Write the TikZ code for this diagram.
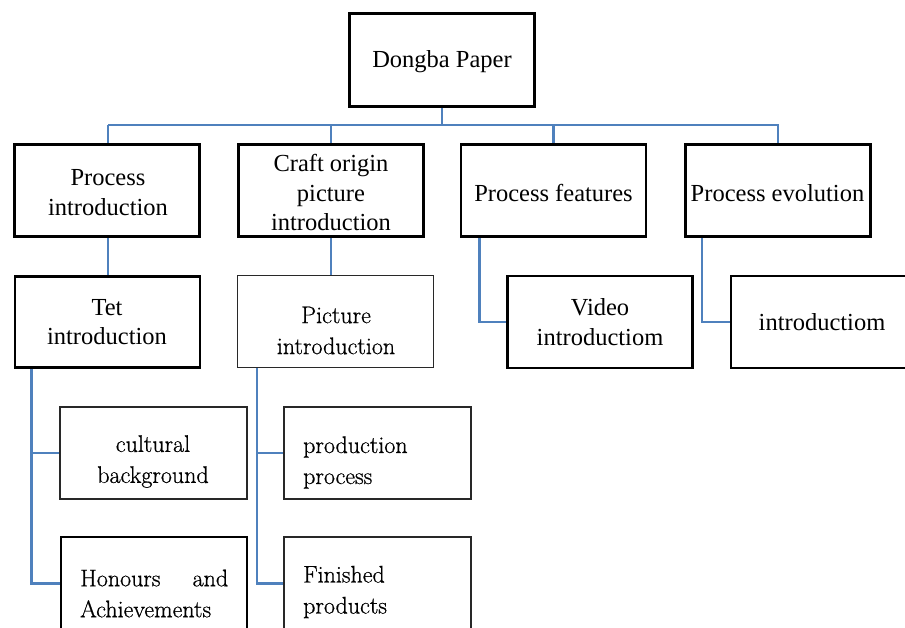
\documentclass[tikz,border=0pt]{standalone}
\usepackage{fontspec}
\setmainfont{Liberation Serif}
\newfontfamily\lmfont[FakeBold=0.7]{Latin Modern Roman}
\usetikzlibrary{backgrounds}
\definecolor{linkblue}{RGB}{79,129,189}
\definecolor{thingray}{RGB}{40,40,40}
\tikzset{
  heavybox/.style={draw=black, line width=2.7pt, inner sep=0pt},
  lightbox/.style={draw=thingray, line width=2pt, inner sep=0pt},
  timestxt/.style={inner sep=0pt, align=center, font=\fontsize{24.5}{29.5}\selectfont},
  lmtxt/.style={inner sep=0pt, font=\lmfont\fontsize{24}{31}\selectfont},
  link/.style={draw=linkblue, line width=2.4pt}
}
\begin{document}
\begin{tikzpicture}[x=1pt,y=-1pt]
\useasboundingbox (0,0) rectangle (905,627);
\clip (0,0) rectangle (905,627);
% boxes
\node[heavybox, minimum width=185pt, minimum height=93pt] (root) at (442,60) {};
\node[heavybox, minimum width=185pt, minimum height=92pt] (A) at (107,190.5) {};
\node[heavybox, minimum width=185pt, minimum height=92pt] (B) at (331,190.5) {};
\node[heavybox, minimum width=185pt, minimum height=92pt] (C) at (553.5,190.5) {};
\node[heavybox, minimum width=185pt, minimum height=92pt] (D) at (778,190.5) {};
\node[heavybox, minimum width=185pt, minimum height=91pt] (tet) at (107.5,322) {};
\node[lightbox, line width=1.6pt, minimum width=196pt, minimum height=92pt] (pic) at (335.5,321.5) {};
\node[heavybox, minimum width=185pt, minimum height=92pt] (video) at (600,322) {};
\node[heavybox, minimum width=182pt, minimum height=92pt] (intro) at (822,322) {};
\node[lightbox, minimum width=187pt, minimum height=92pt] (cult) at (153.5,453) {};
\node[lightbox, minimum width=187pt, minimum height=92pt] (prod) at (377.5,453) {};
\node[heavybox, minimum width=186pt, minimum height=93pt] (hon) at (154,583.5) {};
\node[lightbox, minimum width=187pt, minimum height=93pt] (fin) at (377.5,583.5) {};
% texts
\node[timestxt] (troot) at (442,62) {Dongba Paper};
\node[timestxt] (tA) at (108,192.5) {Process\\introduction};
\node[timestxt] (tB) at (331,192.5) {Craft origin\\picture\\introduction};
\node[timestxt] (tC) at (553.5,193) {Process features};
\node[timestxt] (tD) at (777.5,193) {Process evolution};
\node[timestxt] (ttet) at (107,322) {Tet\\introduction};
\node[timestxt] (tvideo) at (600,322) {Video\\introductiom};
\node[timestxt] (tintro) at (822,322) {introductiom};
\node[lmtxt, align=center] (tpic) at (336,330.5) {Picture\\introduction};
\node[lmtxt, align=center] (tcult) at (153,461.5) {cultural\\background};
\node[lmtxt, align=left, anchor=west] (tprod) at (303,462.5) {production\\process};
\node[lmtxt, align=left, anchor=west] (thon) at (80,593.5) {\makebox[148pt][l]{Honours\hfill and}\\Achievements};
\node[lmtxt, align=left, anchor=west] (tfin) at (303,592) {Finished\\products};
% connectors
\begin{scope}[on background layer]
\coordinate (busL) at (108,125);
\coordinate (busR) at (779,125);
\draw[link] (busL) -- (busR);
\draw[link] (root.south) -- (root.south |- busL);
\draw[link] ([xshift=1pt]A.north |- busL) -- ([xshift=1pt]A.north);
\draw[link] (B.north |- busL) -- (B.north);
\draw[link] (C.north |- busL) -- (C.north);
\draw[link] (D.north |- busL) -- (D.north);
\draw[link] ([xshift=1pt]A.south) -- ([xshift=1pt]A.south |- tet.north);
\draw[link] (B.south) -- (B.south |- pic.north);
\draw[link] ([xshift=20pt]C.south west) |- (video.west);
\draw[link] ([xshift=18pt]D.south west) |- (intro.west);
\draw[link] ([xshift=18pt]tet.south west) |- (cult.west);
\draw[link] ([xshift=18pt]tet.south west) |- (hon.west);
\draw[link] ([xshift=20pt]pic.south west) |- (prod.west);
\draw[link] ([xshift=20pt]pic.south west) |- (fin.west);
\end{scope}
\end{tikzpicture}
\end{document}
